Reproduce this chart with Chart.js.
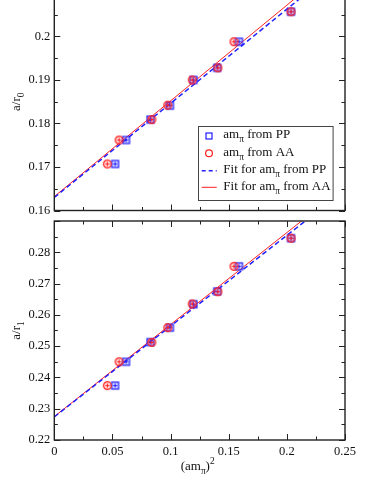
<!DOCTYPE html>
<html>
<head>
<meta charset="utf-8">
<script src="https://cdn.jsdelivr.net/npm/chart.js@4"></script>
<style>
  html, body { margin: 0; padding: 0; background: #fff; overflow: hidden; }
  body { width: 374px; height: 484px; position: relative; }
  .panel { position: absolute; left: 0; width: 374px; }
  #top { top: -20px; height: 242px; }
  #bottom { top: 200px; height: 284px; }
</style>
</head>
<body>
<div class="panel" id="top"><canvas id="chartR0" width="374" height="242"></canvas></div>
<div class="panel" id="bottom"><canvas id="chartR1" width="374" height="284"></canvas></div>
<script>
// (am_pi)^2 for the two pion mass definitions
const xPP = [0.0523, 0.0617, 0.0827, 0.0994, 0.1197, 0.1401, 0.1588, 0.2036];
const xAA = [0.0456, 0.0557, 0.0839, 0.0976, 0.1186, 0.1407, 0.1545, 0.2036];

// a/r0
const r0PP = [0.1707, 0.1762, 0.1809, 0.1841, 0.1900, 0.1928, 0.1988, 0.2057];
const r0AA = [0.1707, 0.1762, 0.1809, 0.1842, 0.1900, 0.1928, 0.1988, 0.2057];
// a/r1
const r1PP = [0.2374, 0.2450, 0.2513, 0.2559, 0.2634, 0.2675, 0.2755, 0.2845];
const r1AA = [0.2374, 0.2450, 0.2512, 0.2559, 0.2635, 0.2674, 0.2755, 0.2845];

// straight fits, end points at x = 0 and x = 0.25
const fitX = [0, 0.25];
const fitR0PP = [0.1630, 0.2171];
const fitR0AA = [0.1632, 0.2182];
const fitR1PP = [0.2274, 0.2999];
const fitR1AA = [0.2275, 0.3010];

const legendLabels = [
  [{t: 'am'}, {t: 'π', sub: true}, {t: ' from PP'}],
  [{t: 'am'}, {t: 'π', sub: true}, {t: ' from AA'}],
  [{t: 'Fit for am'}, {t: 'π', sub: true}, {t: ' from PP'}],
  [{t: 'Fit for am'}, {t: 'π', sub: true}, {t: ' from AA'}]
];

const BLUE = '#1f1fff';
const RED = '#ff2020';
const SERIF = '"Liberation Serif", "DejaVu Serif", serif';

const pts = (xs, ys) => xs.map((x, i) => ({x: x, y: ys[i]}));

// marker with a small error-bar cross inside
function makeMarker(shape, color) {
  const c = document.createElement('canvas');
  c.width = 11; c.height = 11;
  const g = c.getContext('2d');
  g.strokeStyle = color;
  g.fillStyle = shape === 'square' ? 'rgba(60,60,255,0.25)' : 'rgba(255,60,60,0.2)';
  g.lineWidth = 1.2;
  if (shape === 'square') {
    g.fillRect(2, 2, 7, 7);
    g.strokeRect(2, 2, 7, 7);
  } else {
    g.beginPath(); g.arc(5.5, 5.5, 3.9, 0, Math.PI * 2); g.fill(); g.stroke();
  }
  g.lineWidth = 1;
  g.beginPath();
  g.moveTo(5.5, 3.5); g.lineTo(5.5, 7.5);
  g.moveTo(3.5, 5.5); g.lineTo(7.5, 5.5);
  g.stroke();
  return c;
}
const sqMarker = makeMarker('square', BLUE);
const ciMarker = makeMarker('circle', RED);

function richText(ctx, parts, x, y, size, align) {
  let w = 0;
  parts.forEach(p => {
    ctx.font = (p.sub || p.sup ? size * 0.72 : size) + 'px ' + SERIF;
    w += ctx.measureText(p.t).width;
  });
  let cx = align === 'center' ? x - w / 2 : x;
  ctx.textAlign = 'left';
  ctx.textBaseline = 'middle';
  parts.forEach(p => {
    ctx.font = (p.sub || p.sup ? size * 0.72 : size) + 'px ' + SERIF;
    const dy = p.sub ? size * 0.38 : (p.sup ? -size * 0.42 : 0);
    ctx.fillText(p.t, cx, y + dy);
    cx += ctx.measureText(p.t).width;
  });
}

// frame with inward major / minor ticks on all four sides
const frameTicks = {
  id: 'frameTicks',
  afterDatasetsDraw(chart) {
    const {ctx, chartArea: a, scales} = chart;
    const x = scales.x, y = scales.y;
    ctx.save();
    ctx.strokeStyle = '#222';
    ctx.lineWidth = 1;
    ctx.beginPath();
    for (let v = 0; v <= 0.2501; v += 0.025) {
      const len = Math.abs(v / 0.05 - Math.round(v / 0.05)) < 1e-6 ? 6 : 3.5;
      const px = Math.round(x.getPixelForValue(v)) + 0.5;
      ctx.moveTo(px, a.bottom); ctx.lineTo(px, a.bottom - len);
      ctx.moveTo(px, a.top); ctx.lineTo(px, a.top + len);
    }
    for (let v = y.min; v <= y.max + 1e-6; v += 0.005) {
      const len = Math.abs(v / 0.01 - Math.round(v / 0.01)) < 1e-6 ? 6 : 3.5;
      const py = Math.round(y.getPixelForValue(v)) + 0.5;
      ctx.moveTo(a.left, py); ctx.lineTo(a.left + len, py);
      ctx.moveTo(a.right, py); ctx.lineTo(a.right - len, py);
    }
    ctx.stroke();
    ctx.lineWidth = 1.4;
    ctx.strokeRect(a.left, a.top, a.right - a.left, a.bottom - a.top);
    ctx.restore();
  }
};

const titles = {
  id: 'titles',
  afterDraw(chart, args, opts) {
    const {ctx, chartArea: a} = chart;
    ctx.save();
    ctx.fillStyle = '#111';
    ctx.translate(17, (a.top + a.bottom) / 2);
    ctx.rotate(-Math.PI / 2);
    richText(ctx, opts.yTitle, 0, 0, 13, 'center');
    ctx.restore();
    if (opts.xTitle) {
      ctx.save();
      ctx.fillStyle = '#111';
      richText(ctx, opts.xTitle, (a.left + a.right) / 2 - 2, a.bottom + 27, 13, 'center');
      ctx.restore();
    }
  }
};

const boxLegend = {
  id: 'boxLegend',
  afterDraw(chart, args, opts) {
    if (!opts.show) return;
    const {ctx, chartArea: a} = chart;
    const bx = a.left + 143.4, by = a.top + 133.3;
    ctx.save();
    ctx.fillStyle = '#fff';
    ctx.fillRect(bx, by, 134.6, 74);
    ctx.strokeStyle = '#444';
    ctx.lineWidth = 1;
    ctx.strokeRect(Math.round(bx) + 0.5, Math.round(by) + 0.5, 134.6, 74);
    const rows = [9.7, 27, 44.4, 61];
    const mx = bx + 11.3;
    ctx.strokeStyle = BLUE; ctx.lineWidth = 1.2;
    ctx.strokeRect(mx - 3, by + rows[0] - 3, 6, 6);
    ctx.strokeStyle = RED;
    ctx.beginPath(); ctx.arc(mx, by + rows[1], 3.4, 0, Math.PI * 2); ctx.stroke();
    ctx.strokeStyle = BLUE; ctx.lineWidth = 1.4; ctx.setLineDash([4, 3]);
    ctx.beginPath(); ctx.moveTo(bx + 4, by + rows[2]); ctx.lineTo(bx + 19, by + rows[2]); ctx.stroke();
    ctx.setLineDash([]);
    ctx.strokeStyle = RED; ctx.lineWidth = 1;
    ctx.beginPath(); ctx.moveTo(bx + 4, by + rows[3]); ctx.lineTo(bx + 19, by + rows[3]); ctx.stroke();
    ctx.fillStyle = '#111';
    legendLabels.forEach((parts, i) => richText(ctx, parts, bx + 25.6, by + rows[i] - 1, 13, 'left'));
    ctx.restore();
  }
};

function makeChart(id, ppY, aaY, fitPP, fitAA, yMin, yMax, opts) {
  const fmt = v => (v > yMax - 0.005) ? '' : String(+v.toFixed(3));
  return new Chart(document.getElementById(id), {
    type: 'scatter',
    data: {
      datasets: [
        {label: 'AA', data: pts(xAA, aaY), pointStyle: ciMarker, pointRadius: 4},
        {label: 'PP', data: pts(xPP, ppY), pointStyle: sqMarker, pointRadius: 4},
        {type: 'line', label: 'Fit PP', data: pts(fitX, fitPP), borderColor: BLUE, borderWidth: 1.5,
         borderDash: [5, 3], pointRadius: 0, fill: false},
        {type: 'line', label: 'Fit AA', data: pts(fitX, fitAA), borderColor: RED, borderWidth: 1,
         pointRadius: 0, fill: false}
      ]
    },
    options: {
      responsive: false,
      animation: false,
      events: [],
      layout: {padding: opts.padding},
      scales: {
        x: {
          type: 'linear', min: 0, max: 0.25, display: opts.showX,
          grid: {display: false, drawTicks: false},
          border: {display: false},
          ticks: {stepSize: 0.05, color: '#111', padding: 4, maxRotation: 0,
                  font: {family: SERIF, size: 12.5},
                  callback: v => String(+v.toFixed(3))},
          afterFit: s => { s.height = opts.showX ? 44 : 0; }
        },
        y: {
          type: 'linear', min: yMin, max: yMax,
          grid: {display: false, drawTicks: false},
          border: {display: false},
          ticks: {stepSize: 0.01, color: '#111', padding: 4,
                  font: {family: SERIF, size: 12.5}, callback: fmt},
          afterFit: s => { s.width = 54.3; }
        }
      },
      plugins: {
        legend: {display: false},
        tooltip: {enabled: false},
        titles: {yTitle: opts.yTitle, xTitle: opts.xTitle},
        boxLegend: {show: opts.legend}
      }
    },
    plugins: [frameTicks, titles, boxLegend]
  });
}

makeChart('chartR0', r0PP, r0AA, fitR0PP, fitR0AA, 0.16, 0.21, {
  padding: {top: 13, bottom: 0, left: 0, right: 29},
  showX: false, legend: true,
  yTitle: [{t: 'a/r'}, {t: '0', sub: true}]
});

makeChart('chartR1', r1PP, r1AA, fitR1PP, fitR1AA, 0.22, 0.29, {
  padding: {top: 21, bottom: 0, left: 0, right: 29},
  showX: true, legend: false,
  yTitle: [{t: 'a/r'}, {t: '1', sub: true}],
  xTitle: [{t: '(am'}, {t: 'π', sub: true}, {t: ')'}, {t: '2', sup: true}]
});
</script>
</body>
</html>
